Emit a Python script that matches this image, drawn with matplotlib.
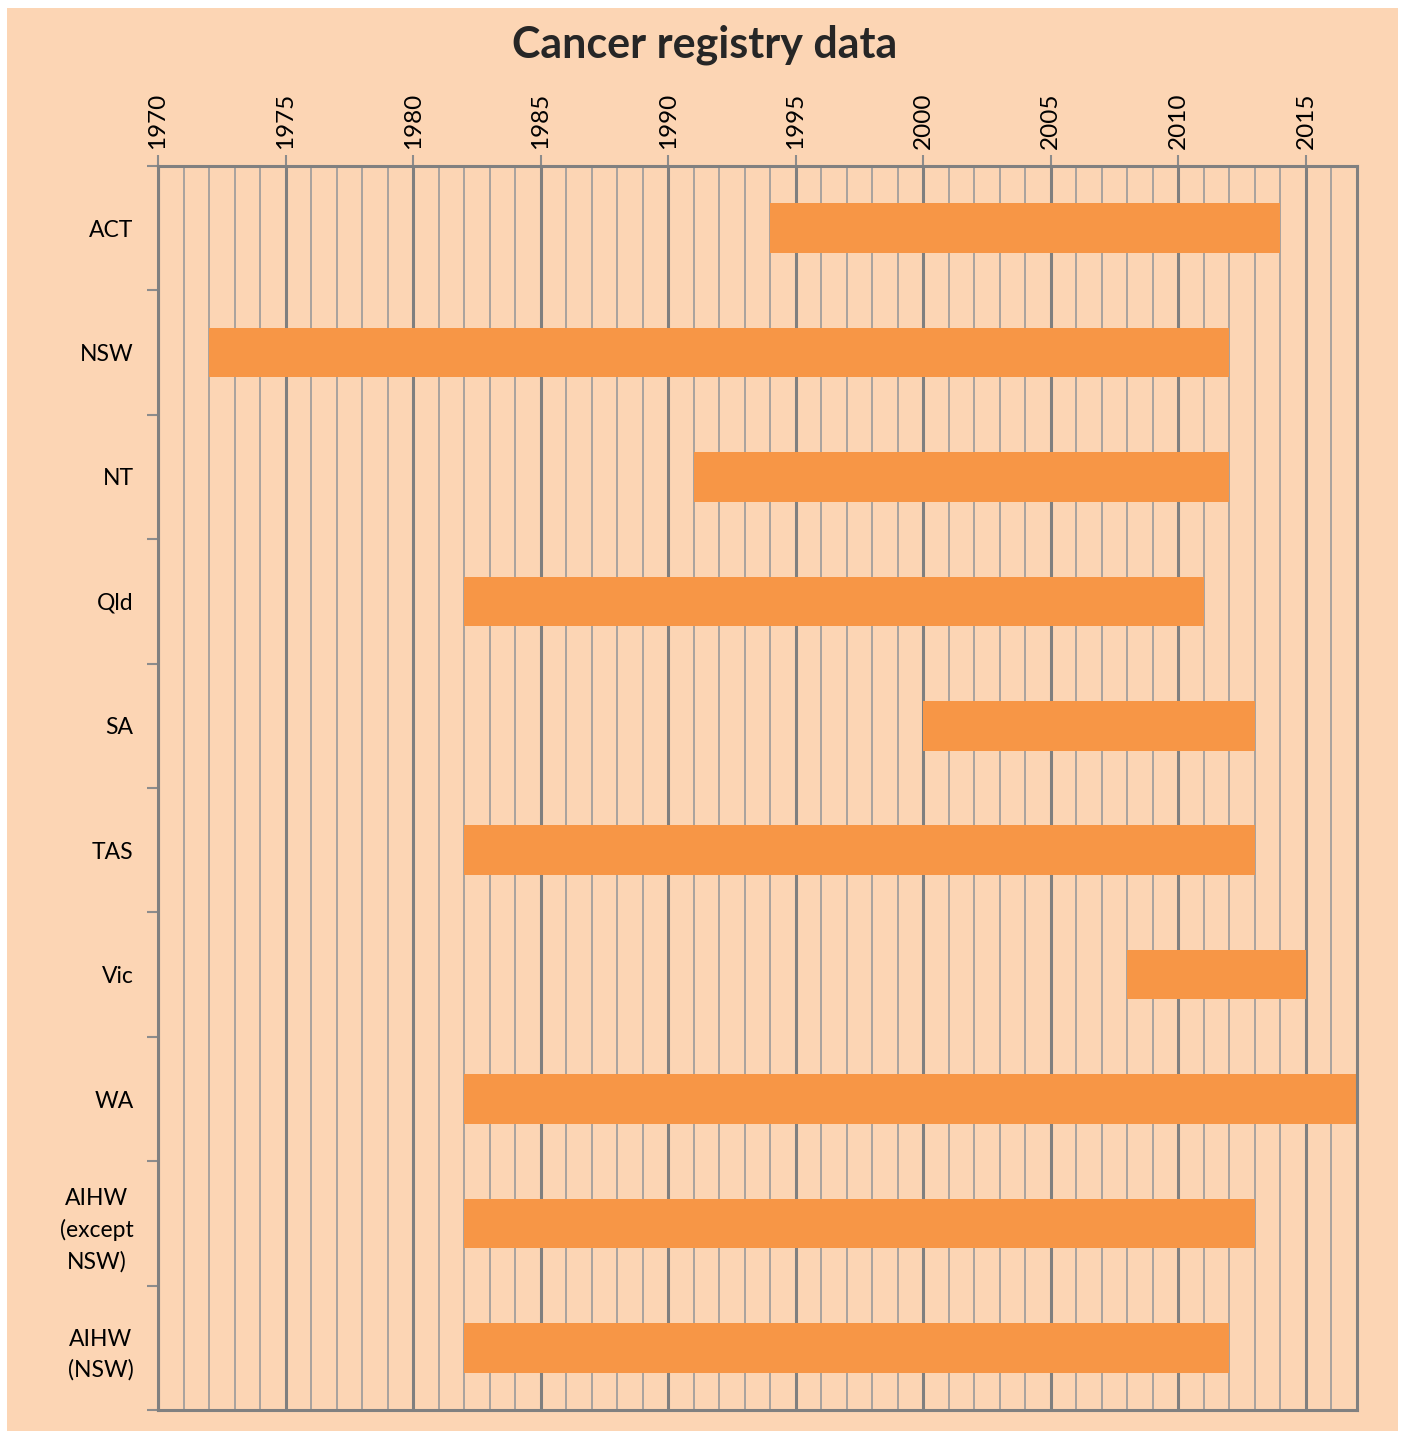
import numpy as np
import matplotlib
matplotlib.use("Agg")
import matplotlib.pyplot as plt
from matplotlib.patches import Rectangle
from matplotlib.ticker import MultipleLocator, FixedLocator

#data
registries = ["ACT", "NSW", "NT", "Qld", "SA", "TAS", "Vic", "WA",
              "AIHW\n(except\nNSW)", "AIHW\n(NSW)"]
start_year = [1994, 1972, 1991, 1982, 2000, 1982, 2008, 1982, 1982, 1982]
end_year = [2014, 2012, 2012, 2011, 2013, 2013, 2015, 2017, 2013, 2012]

BG = "#FCD5B4"
BAR = "#F79646"
GRID = "#8C8C8C"

plt.rcParams["font.family"] = ["Lato", "DejaVu Sans"]

fig = plt.figure(figsize=(14.02, 14.38), dpi=100, facecolor="white")
#peach panel behind everything
fig.patches.append(Rectangle((7 / 1402, 1 - 1431 / 1438), 1391 / 1402, 1423 / 1438,
                             transform=fig.transFigure, facecolor=BG, edgecolor="none", zorder=-10))

ax = fig.add_axes([158 / 1402, 1 - 1410 / 1438, (1357 - 158) / 1402, (1410 - 166) / 1438])
ax.set_zorder(5)
ax.set_facecolor(BG)

y = np.arange(len(registries))
widths = [e - s for s, e in zip(start_year, end_year)]
ax.barh(y, widths, left=start_year, height=0.4, color=BAR, zorder=3)

ax.set_xlim(1970, 2017)
ax.set_ylim(len(registries) - 0.5, -0.5)

#x axis on top, rotated years
ax.xaxis.tick_top()
ax.xaxis.set_major_locator(MultipleLocator(5))
ax.xaxis.set_minor_locator(MultipleLocator(1))
ax.tick_params(axis="x", which="major", length=8, width=1.5, color=GRID,
               labelsize=17.5, labelrotation=90, pad=4)
ax.tick_params(axis="x", which="minor", length=0)
ax.grid(axis="x", which="major", color="#7F7F7F", linewidth=2.2, zorder=1)
ax.grid(axis="x", which="minor", color="#9A9A9A", linewidth=1.2, zorder=1)

#category labels centered in rows, ticks at row boundaries
ax.set_yticks(y)
ax.set_yticklabels(registries)
ax.yaxis.set_minor_locator(FixedLocator(np.arange(-0.5, len(registries), 1)))
ax.tick_params(axis="y", which="major", length=0, labelsize=16.5, pad=17.5)
ax.tick_params(axis="y", which="minor", length=8, width=1.5, color=GRID)
for t in ax.get_yticklabels():
    t.set_multialignment("center")
    t.set_linespacing(1.55)

for s in ax.spines.values():
    s.set_color("#808080")
    s.set_linewidth(2.2)
    s.set_zorder(4)

fig.text(705 / 1402, 1 - 45 / 1438, "Cancer registry data", ha="center", va="center",
         fontsize=31, fontweight="bold", color="#262626")

fig.savefig("out.png", dpi=100, facecolor="white")
